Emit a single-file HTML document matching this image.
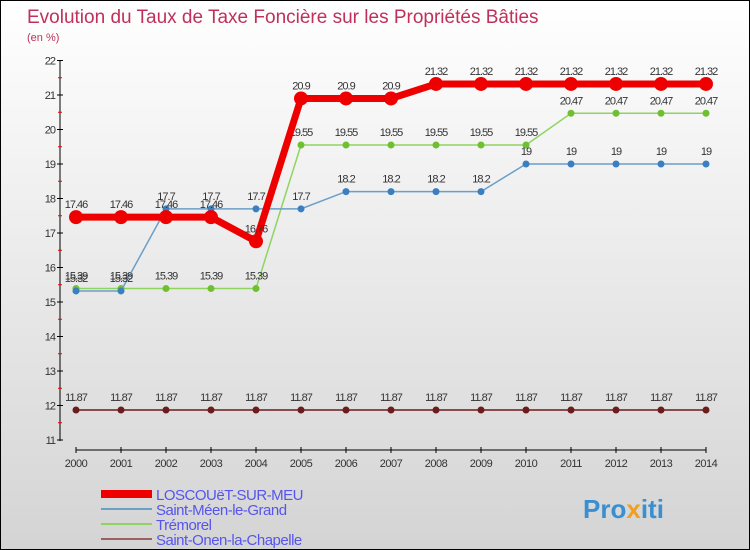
<!DOCTYPE html>
<html><head><meta charset="utf-8"><style>
body{margin:0}
#c{width:748px;height:548px;border:1px solid #000;background:linear-gradient(#fff,#d4d4d4);position:relative;font-family:"Liberation Sans",sans-serif;overflow:hidden}
</style></head><body>
<div id="c">
<svg id="s" width="748" height="548" style="position:absolute;left:0;top:0">
<text x="26" y="22" font-size="19" fill="#c0305a">Evolution du Taux de Taxe Foncière sur les Propriétés Bâties</text>
<text x="26" y="40" font-size="11" fill="#c0305a">(en %)</text>
</svg>
</div>
<script>
const years=[2000,2001,2002,2003,2004,2005,2006,2007,2008,2009,2010,2011,2012,2013,2014];
const loscouet=[17.46,17.46,17.46,17.46,16.76,20.9,20.9,20.9,21.32,21.32,21.32,21.32,21.32,21.32,21.32];
const saintMeen=[15.32,15.32,17.7,17.7,17.7,17.7,18.2,18.2,18.2,18.2,19,19,19,19,19];
const tremorel=[15.39,15.39,15.39,15.39,15.39,19.55,19.55,19.55,19.55,19.55,19.55,20.47,20.47,20.47,20.47];
const saintOnen=[11.87,11.87,11.87,11.87,11.87,11.87,11.87,11.87,11.87,11.87,11.87,11.87,11.87,11.87,11.87];
const yTicks=[11,12,13,14,15,16,17,18,19,20,21,22];
const names=["LOSCOUëT-SUR-MEU","Saint-Méen-le-Grand","Trémorel","Saint-Onen-la-Chapelle"];
const NS="http://www.w3.org/2000/svg",s=document.getElementById('s');
const X=i=>75+45*i, Y=v=>439-(v-11)*34.5;
function el(t,a,p){const e=document.createElementNS(NS,t);for(const k in a)e.setAttribute(k,a[k]);(p||s).appendChild(e);return e;}
// axes
let ax=el('line',{x1:59,y1:60,x2:59,y2:440,stroke:'#000'});

yTicks.forEach(v=>{el('line',{x1:56,x2:62,y1:Y(v),y2:Y(v),stroke:'#000'});
 if(v<22)el('line',{x1:57,x2:61,y1:Y(v+0.5),y2:Y(v+0.5),stroke:'#e00'});
 const t=el('text',{x:54,y:Y(v)+4,'font-size':11,fill:'#333','text-anchor':'end','letter-spacing':'-1'});t.textContent=v;
 });
let xa=el('line',{x1:75,y1:449,x2:705,y2:449,stroke:'#000'});

years.forEach((y,i)=>{el('line',{x1:X(i),x2:X(i),y1:446,y2:452,stroke:'#000'});
 const t=el('text',{x:X(i),y:466,'font-size':11,fill:'#333','text-anchor':'middle','letter-spacing':'-0.5'});t.textContent=y;
 });
const series=[[saintOnen,'#6b1c1c',1.5,3.5],[tremorel,'#8fd460',1.5,3.5],[saintMeen,'#6a9fc8',1.5,3.5],[loscouet,'#ee0000',7,7]];
const ptCol=['#6b1c1c','#6fc030','#3a7fc0','#ee0000'];
series.forEach(([d,c,w,r],k)=>{
 const p=el('polyline',{points:d.map((v,i)=>X(i)+','+Y(v)).join(' '),fill:'none',stroke:c,'stroke-width':w});
 
 d.forEach((v,i)=>{const m=el('circle',{cx:X(i),cy:Y(v),r:r,fill:ptCol[k]});
  
  const t=el('text',{x:X(i),y:Y(v)-9,'font-size':11,fill:'#333','text-anchor':'middle','letter-spacing':'-1'});t.textContent=v;
  });
});
// legend
const lc=['#ee0000','#6a9fc8','#8fd460','#9b6060'],lw=[8,2,2,2];
names.forEach((n,i)=>{const y=493+i*15;
 const l=el('line',{x1:100,x2:151,y1:y,y2:y,stroke:lc[i],'stroke-width':lw[i]});
 
 const t=el('text',{x:155,y:y+6,'font-size':15,fill:'#5555ee','letter-spacing':'-0.5'});t.textContent=n;
 });
const lg=el('text',{x:582,y:517,'font-size':26,'font-weight':'bold',fill:'#3a8fd0'});

lg.innerHTML='Pro<tspan fill="#f0a020">x</tspan>iti';
</script>
</body></html>
